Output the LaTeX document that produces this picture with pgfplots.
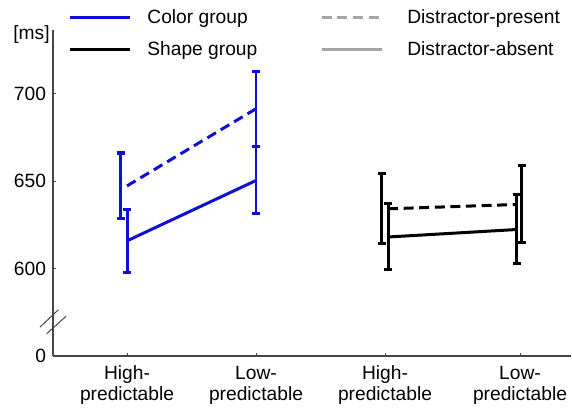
\documentclass[border=0pt]{standalone}
\usepackage{fontspec}
\setmainfont{Liberation Sans}
\usepackage{pgfplots}
\pgfplotsset{compat=1.18}
\definecolor{cblue}{RGB}{15,15,215}
\definecolor{lgray}{RGB}{165,165,165}
\definecolor{axgray}{RGB}{70,70,70}
\begin{document}
\begin{tikzpicture}[font=\fontsize{9.6}{10}\selectfont]
\begin{axis}[
  scale only axis, width=259pt, height=163pt,
  xmin=53, xmax=571, ymin=550, ymax=736.3,
  axis x line*=bottom, axis y line*=left,
  axis line style={draw=axgray, line width=0.6pt, -},
  xtick={127,256,385,520},
  xticklabels={High-\\predictable, Low-\\predictable, High-\\predictable, Low-\\predictable},
  xticklabel style={align=center, font=\fontsize{9.6}{10.5}\selectfont, yshift=-1.5pt},
  ytick={550,600,650,700}, yticklabels={0,600,650,700},
  yticklabel style={font=\fontsize{9.6}{10}\selectfont},
  tick align=inside, major tick length=1.5pt,
  tick style={draw=axgray, line width=0.5pt},
  clip=false,
  legend columns=2,
  legend cell align=left,
  legend image code/.code={\draw[#1] (0pt,0pt) -- (30pt,0pt);},
  legend style={at={(axis cs:68,748.3)}, anchor=north west, draw=none, fill=none,
    inner sep=0pt, row sep=7.5pt,
    nodes={inner sep=0pt},
    /tikz/column 1/.append style={column sep=8pt},
    /tikz/column 2/.append style={column sep=31.5pt},
    /tikz/column 3/.append style={column sep=12pt}},
]
\addlegendimage{cblue, line width=1.5pt}
\addlegendentry{Color group}
\addlegendimage{lgray, line width=1.5pt, dash pattern=on 5pt off 2.8pt}
\addlegendentry{Distractor-present}
\addlegendimage{black, line width=1.5pt}
\addlegendentry{Shape group}
\addlegendimage{lgray, line width=1.5pt}
\addlegendentry{Distractor-absent}

% mean lines
\addplot[forget plot, cblue, line width=1.5pt, dash pattern=on 5pt off 2.8pt] coordinates {(127,647.2) (256,691.3)};
\addplot[forget plot, cblue, line width=1.5pt] coordinates {(127,615.8) (256,650.3)};
\addplot[forget plot, black, line width=1.5pt, dash pattern=on 5pt off 2.8pt] coordinates {(388,634.1) (517,636.6)};
\addplot[forget plot, black, line width=1.5pt] coordinates {(388,618.0) (517,622.3)};

% error bars
\pgfplotsset{ebar/.style={forget plot, draw=none, mark=none,
  error bars/.cd, y dir=both, y explicit,
  error bar style={draw=#1, solid, line width=1.4pt},
  error mark options={draw=#1, solid, rotate=90, mark size=2pt, line width=1.6pt}}}
\addplot[ebar=cblue] coordinates {(120.7,647.2) +- (0,18.8)};
\addplot[ebar=cblue] coordinates {(127.3,615.7) +- (0,17.8)};
\addplot[ebar=cblue] coordinates {(256,691.3) +- (0,21.4)};
\addplot[ebar=cblue] coordinates {(256,650.5) +- (0,19.0)};
\addplot[ebar=black] coordinates {(381.7,634.1) +- (0,20.0)};
\addplot[ebar=black] coordinates {(388.3,618.3) +- (0,19.0)};
\addplot[ebar=black] coordinates {(521.7,636.8) +- (0,22.1)};
\addplot[ebar=black] coordinates {(516.7,622.4) +- (0,19.7)};

% axis break
\draw[axgray, line width=0.5pt] (axis cs:40,566.5) -- (axis cs:58.3,576.4);
\draw[axgray, line width=0.5pt] (axis cs:46.7,562.7) -- (axis cs:66,572.7);

\node[anchor=base east, inner sep=0pt] at (axis cs:50,731.1) {[ms]};
\end{axis}
\pgfresetboundingbox
\path[use as bounding box] (-26.5pt,-27pt) rectangle (259.5pt,178pt);
\end{tikzpicture}
\end{document}
